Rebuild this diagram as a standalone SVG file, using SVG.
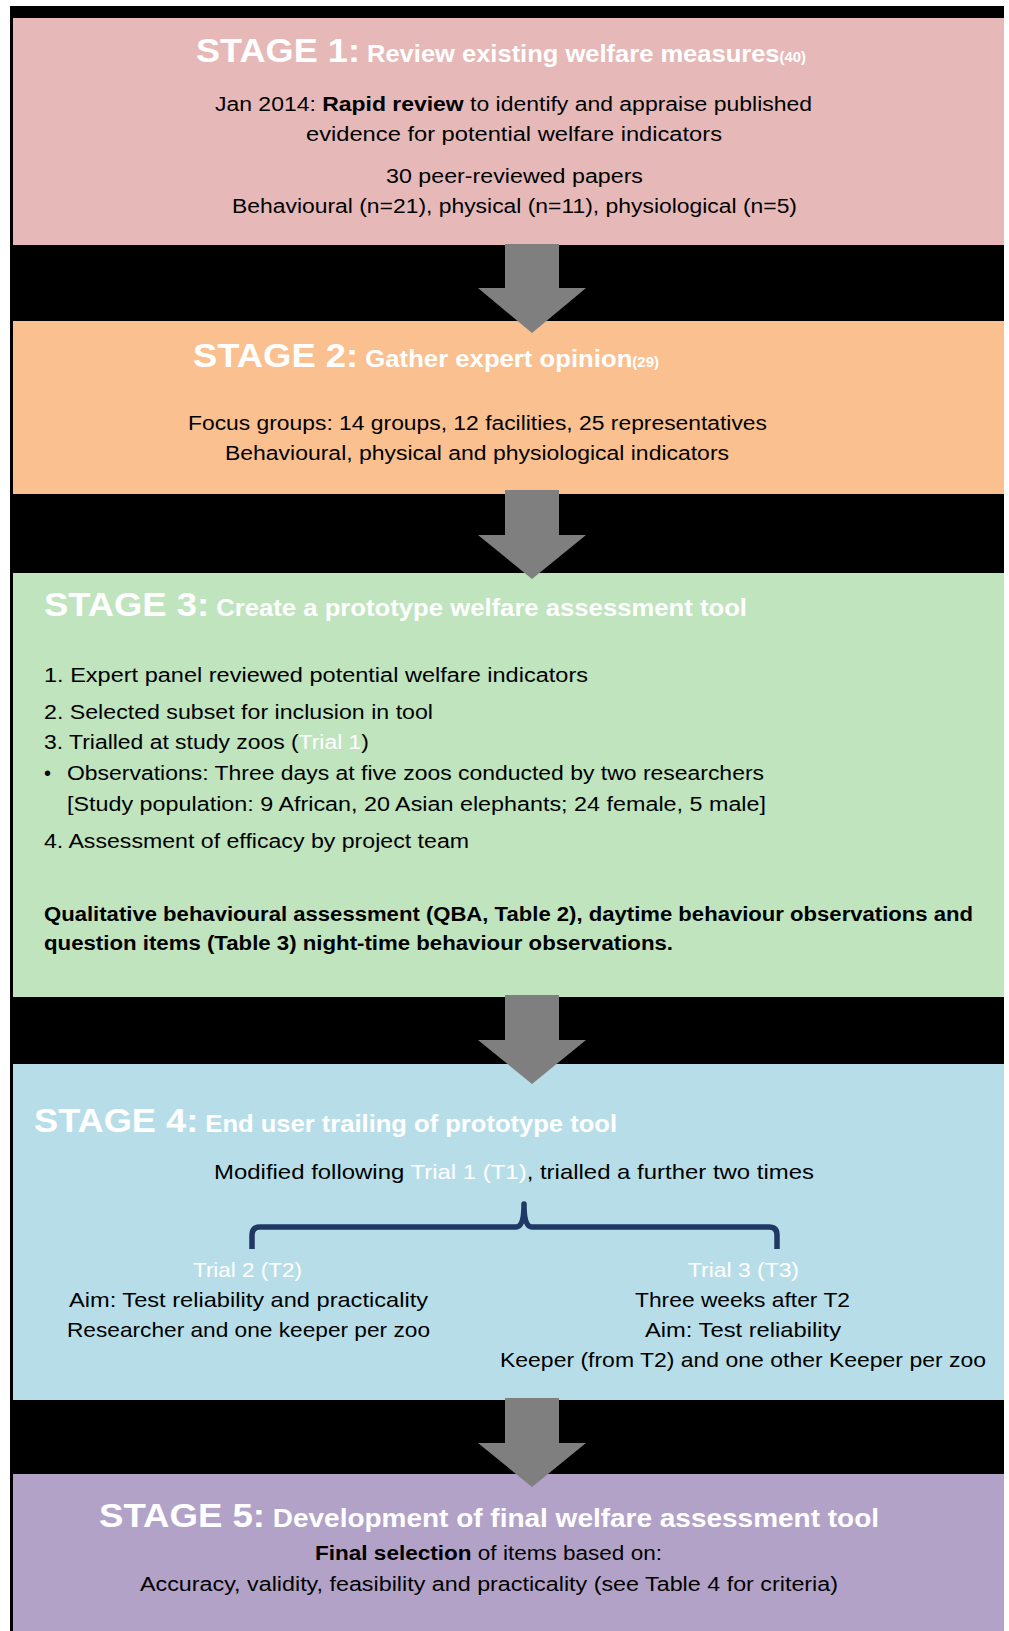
<svg xmlns="http://www.w3.org/2000/svg" width="1009" height="1631" viewBox="0 0 1009 1631">
<style>
text { font-family: "Liberation Sans", Arial, sans-serif; fill: #000; }
.ttl { fill: #fff; font-weight: bold; }
.body { font-size: 20px; }
.b4 { font-size: 21px; }
.bd { font-weight: bold; }
.wh { fill: #fff; }
.arrow { fill: #7f7f7f; }
</style>
<rect x="0" y="0" width="1009" height="1631" fill="#fff"/>
<rect x="10" y="6" width="994" height="1625" fill="#000"/>

<g id="stage1">
<rect x="13" y="18" width="991" height="227" fill="#e6b9b8"/>
<text class="ttl" x="196" y="62" textLength="610" lengthAdjust="spacingAndGlyphs"><tspan font-size="34">STAGE 1:</tspan><tspan font-size="24"> Review existing welfare measures</tspan><tspan font-size="14">(40)</tspan></text>
<text class="body" x="215" y="111" textLength="597" lengthAdjust="spacingAndGlyphs">Jan 2014: <tspan class="bd">Rapid review</tspan> to identify and appraise published</text>
<text class="body" x="306" y="141" textLength="416" lengthAdjust="spacingAndGlyphs">evidence for potential welfare indicators</text>
<text class="body" x="386" y="183" textLength="257" lengthAdjust="spacingAndGlyphs">30 peer-reviewed papers</text>
<text class="body" x="232" y="213" textLength="565" lengthAdjust="spacingAndGlyphs">Behavioural (n=21), physical (n=11), physiological (n=5)</text>
</g>

<g id="stage2">
<rect x="13" y="321" width="991" height="173" fill="#fac090"/>
<text class="ttl" x="193" y="367" textLength="466" lengthAdjust="spacingAndGlyphs"><tspan font-size="34">STAGE 2:</tspan><tspan font-size="24"> Gather expert opinion</tspan><tspan font-size="14">(29)</tspan></text>
<text class="body" x="188" y="430" textLength="579" lengthAdjust="spacingAndGlyphs">Focus groups: 14 groups, 12 facilities, 25 representatives</text>
<text class="body" x="225" y="460" textLength="504" lengthAdjust="spacingAndGlyphs">Behavioural, physical and physiological indicators</text>
</g>

<g id="stage3">
<rect x="13" y="573" width="991" height="424" fill="#bfe4be"/>
<text class="ttl" x="44" y="616" textLength="703" lengthAdjust="spacingAndGlyphs"><tspan font-size="34">STAGE 3:</tspan><tspan font-size="24"> Create a prototype welfare assessment tool</tspan></text>
<text class="body" x="44" y="682" textLength="544" lengthAdjust="spacingAndGlyphs">1. Expert panel reviewed potential welfare indicators</text>
<text class="body" x="44" y="719" textLength="389" lengthAdjust="spacingAndGlyphs">2. Selected subset for inclusion in tool</text>
<text class="body" x="44" y="749" textLength="325" lengthAdjust="spacingAndGlyphs">3. Trialled at study zoos (<tspan class="wh">Trial 1</tspan>)</text>
<text class="body" x="44" y="780">•</text>
<text class="body" x="67" y="780" textLength="697" lengthAdjust="spacingAndGlyphs">Observations: Three days at five zoos conducted by two researchers</text>
<text class="body" x="67" y="811" textLength="699" lengthAdjust="spacingAndGlyphs">[Study population: 9 African, 20 Asian elephants; 24 female, 5 male]</text>
<text class="body" x="44" y="848" textLength="425" lengthAdjust="spacingAndGlyphs">4. Assessment of efficacy by project team</text>
<text class="body bd" x="44" y="921" textLength="929" lengthAdjust="spacingAndGlyphs">Qualitative behavioural assessment (QBA, Table 2), daytime behaviour observations and</text>
<text class="body bd" x="44" y="950" textLength="629" lengthAdjust="spacingAndGlyphs">question items (Table 3) night-time behaviour observations.</text>
</g>

<g id="stage4">
<rect x="13" y="1064" width="991" height="336" fill="#b7dee8"/>
<text class="ttl" x="34" y="1132" textLength="583" lengthAdjust="spacingAndGlyphs"><tspan font-size="34">STAGE 4:</tspan><tspan font-size="24"> End user trailing of prototype tool</tspan></text>
<text class="b4" x="214" y="1179" textLength="600" lengthAdjust="spacingAndGlyphs">Modified following <tspan class="wh">Trial 1 (T1)</tspan>, trialled a further two times</text>
<path d="M252 1249 V1235 Q252 1227 260 1227 H516 Q524 1227 524 1204 Q524 1227 532 1227 H769 Q777 1227 777 1235 V1249" fill="none" stroke="#1f3864" stroke-width="5.5" stroke-linejoin="round"/>
<text class="b4 wh" x="193" y="1277" textLength="109" lengthAdjust="spacingAndGlyphs">Trial 2 (T2)</text>
<text class="b4" x="69" y="1307" textLength="359" lengthAdjust="spacingAndGlyphs">Aim: Test reliability and practicality</text>
<text class="b4" x="67" y="1337" textLength="363" lengthAdjust="spacingAndGlyphs">Researcher and one keeper per zoo</text>
<text class="b4 wh" x="688" y="1277" textLength="111" lengthAdjust="spacingAndGlyphs">Trial 3 (T3)</text>
<text class="b4" x="635" y="1307" textLength="215" lengthAdjust="spacingAndGlyphs">Three weeks after T2</text>
<text class="b4" x="645" y="1337" textLength="196" lengthAdjust="spacingAndGlyphs">Aim: Test reliability</text>
<text class="b4" x="500" y="1367" textLength="486" lengthAdjust="spacingAndGlyphs">Keeper (from T2) and one other Keeper per zoo</text>
</g>

<g id="stage5">
<rect x="13" y="1474" width="991" height="157" fill="#b3a2c7"/>
<text class="ttl" x="99" y="1527" textLength="780" lengthAdjust="spacingAndGlyphs"><tspan font-size="34">STAGE 5:</tspan><tspan font-size="26"> Development of final welfare assessment tool</tspan></text>
<text class="body" x="315" y="1560" textLength="347" lengthAdjust="spacingAndGlyphs"><tspan class="bd">Final selection</tspan> of items based on:</text>
<text class="body" x="140" y="1591" textLength="698" lengthAdjust="spacingAndGlyphs">Accuracy, validity, feasibility and practicality (see Table 4 for criteria)</text>
</g>

<g id="connectors">
<polygon class="arrow" points="505,244 559,244 559,288 586,288 532,333 478,288 505,288"/>
<polygon class="arrow" points="505,490 559,490 559,535 586,535 532,579 478,535 505,535"/>
<polygon class="arrow" points="505,995 559,995 559,1040 586,1040 532,1084 478,1040 505,1040"/>
<polygon class="arrow" points="505,1398 559,1398 559,1443 586,1443 532,1487 478,1443 505,1443"/>
</g>
</svg>
